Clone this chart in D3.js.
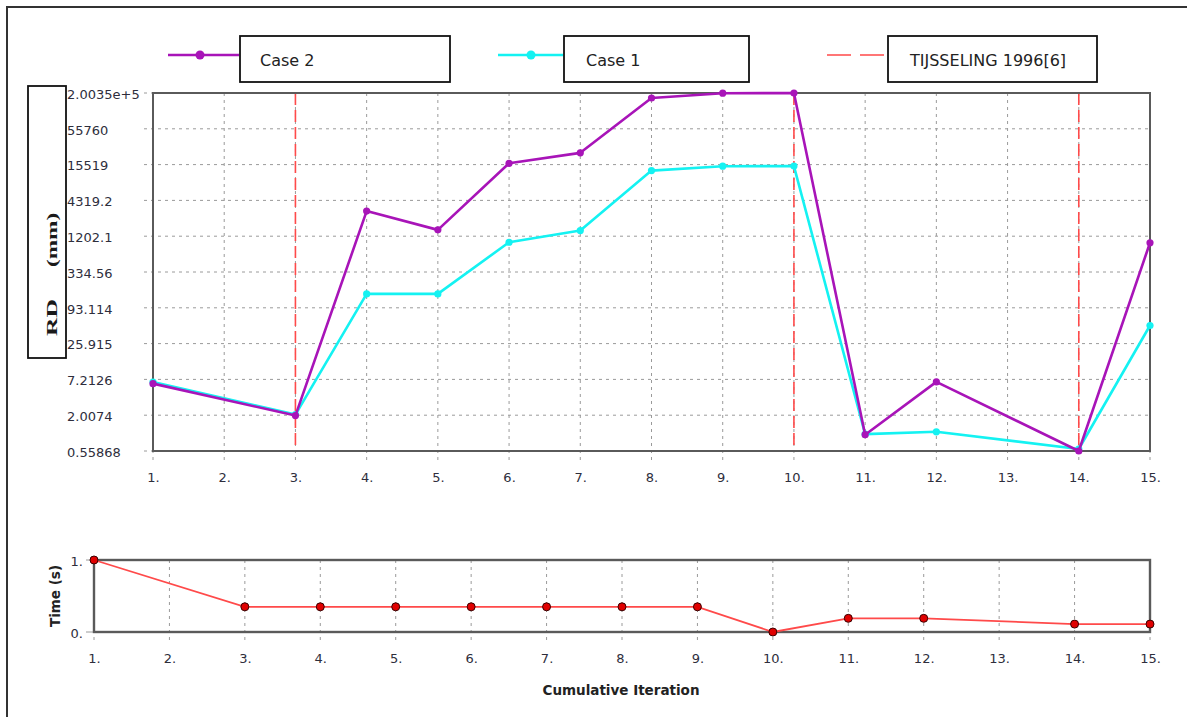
<!DOCTYPE html>
<html>
<head>
<meta charset="utf-8">
<script src="https://cdn.jsdelivr.net/npm/d3@7"></script>
<style>
  html, body { margin: 0; padding: 0; background: #fff; }
  svg { display: block; }
</style>
</head>
<body>
<script>
// Iterations at which results were recorded (2 and 13 have no sample)
const iterations = [1, 3, 4, 5, 6, 7, 8, 9, 10, 11, 12, 14, 15];
// RD (mm) per iteration
const case2 = [6.2, 1.98, 2950, 1507, 16270, 23620, 167500, 199000, 200350, 1.0, 6.6, 0.55868, 952];
const case1 = [6.55, 2.05, 153, 153, 969, 1470, 12525, 14660, 14700, 1.02, 1.11, 0.6, 49.5];
// Computation time (s) per iteration
const timeSec = [1.0, 0.35, 0.35, 0.35, 0.35, 0.35, 0.35, 0.35, 0.0, 0.19, 0.19, 0.11, 0.11];
// Iterations marked by the reference solution
const refIterations = [3, 10, 14];
// Axis ticks
const xTicks = [1, 2, 3, 4, 5, 6, 7, 8, 9, 10, 11, 12, 13, 14, 15];
const yTickValues = [0.55868, 2.0074, 7.2126, 25.915, 93.114, 334.56, 1202.1, 4319.2, 15519, 55760, 200350];
const yTickLabels = ["0.55868", "2.0074", "7.2126", "25.915", "93.114", "334.56", "1202.1", "4319.2", "15519", "55760", "2.0035e+5"];
const timeTicks = [0, 1];
const timeTickLabels = ["0.", "1."];
const legendLabels = ["Case 2", "Case 1", "TIJSSELING 1996[6]"];

const W = 1187, H = 717;
const PURPLE = "#a814b8", CYAN = "#14f2f2", RED = "#ff4a4a";
const FONT = "'DejaVu Sans', Verdana, sans-serif";
const TXT = "#2e2e3c";

const svg = d3.select("body").append("svg").attr("width", W).attr("height", H);
svg.append("rect").attr("width", W).attr("height", H).attr("fill", "#fff");
// outer frame
svg.append("rect").attr("x", 7).attr("y", 7).attr("width", W + 20).attr("height", H + 20)
  .attr("fill", "none").attr("stroke", "#333").attr("stroke-width", 2);

// ---------- upper chart: RD ----------
const pTop = { l: 153, r: 1150, t: 93, b: 451 };
const x = d3.scaleLinear().domain([1, 15]).range([pTop.l, pTop.r]);
const y = d3.scaleLog().domain([0.55868, 200350]).range([pTop.b, pTop.t]);

const gTop = svg.append("g");
// grid
gTop.selectAll(".hg").data(yTickValues).join("line")
  .attr("x1", pTop.l - 9).attr("x2", pTop.r)
  .attr("y1", d => y(d)).attr("y2", d => y(d))
  .attr("stroke", "#9a9a9a").attr("stroke-width", 1).attr("stroke-dasharray", "3,4");
gTop.selectAll(".vg").data(xTicks).join("line")
  .attr("x1", d => x(d)).attr("x2", d => x(d))
  .attr("y1", pTop.t).attr("y2", pTop.b + 11)
  .attr("stroke", "#9a9a9a").attr("stroke-width", 1).attr("stroke-dasharray", "3,4");
// reference lines
gTop.selectAll(".ref").data(refIterations).join("line")
  .attr("x1", d => x(d)).attr("x2", d => x(d))
  .attr("y1", pTop.t).attr("y2", pTop.b)
  .attr("stroke", RED).attr("stroke-width", 1.6).attr("stroke-dasharray", "12,5");
// frame
gTop.append("rect").attr("x", pTop.l).attr("y", pTop.t)
  .attr("width", pTop.r - pTop.l).attr("height", pTop.b - pTop.t)
  .attr("fill", "none").attr("stroke", "#5a5a5a").attr("stroke-width", 2);

// y axis labels
const yAxis = d3.axisLeft(y).tickValues(yTickValues)
  .tickFormat((d, i) => yTickLabels[i]).tickSize(0).tickPadding(0);
const gy = svg.append("g").attr("transform", `translate(${pTop.l},0)`).call(yAxis);
gy.select(".domain").remove();
gy.selectAll("text").attr("text-anchor", "start").attr("x", 67 - pTop.l).attr("dy", "0.4em")
  .style("font-family", FONT).style("font-size", "13px").attr("fill", TXT);

// x axis labels
const xAxis = d3.axisBottom(x).tickValues(xTicks).tickFormat(d => d + ".").tickSize(0).tickPadding(0);
const gx = svg.append("g").attr("transform", `translate(0,${pTop.b})`).call(xAxis);
gx.select(".domain").remove();
gx.selectAll("text").attr("y", 31).attr("dy", 0)
  .style("font-family", FONT).style("font-size", "13px").attr("fill", TXT);

// series
function drawSeries(vals, color) {
  const pts = iterations.map((it, i) => [it, vals[i]]);
  const line = d3.line().x(d => x(d[0])).y(d => y(d[1]));
  gTop.append("path").datum(pts).attr("d", line)
    .attr("fill", "none").attr("stroke", color).attr("stroke-width", 2.6).attr("stroke-linejoin", "round");
  gTop.append("g").selectAll("circle").data(pts).join("circle")
    .attr("cx", d => x(d[0])).attr("cy", d => y(d[1])).attr("r", 3.6).attr("fill", color);
}
drawSeries(case1, CYAN);
drawSeries(case2, PURPLE);

// y title box with stretched serif caption
svg.append("rect").attr("x", 28).attr("y", 86).attr("width", 38).attr("height", 272)
  .attr("fill", "#fff").attr("stroke", "#111").attr("stroke-width", 1.8);
const serif = "'Liberation Serif', 'Times New Roman', serif";
svg.append("text").attr("transform", "translate(57,336) rotate(-90) scale(1.7,1)")
  .style("font-family", serif).style("font-size", "15px").style("font-weight", "bold")
  .attr("fill", "#1a1a1a").text("RD");
svg.append("text").attr("transform", "translate(57,267) rotate(-90) scale(1.55,1)")
  .style("font-family", serif).style("font-size", "15px").style("font-weight", "bold")
  .attr("fill", "#1a1a1a").text("(mm)");

// legend
const legend = [
  { label: legendLabels[0], color: PURPLE, x1: 168, x2: 239, mk: 200, bx: 240, bw: 210, tx: 260, dash: null },
  { label: legendLabels[1], color: CYAN, x1: 498, x2: 563, mk: 531, bx: 564, bw: 185, tx: 586, dash: null },
  { label: legendLabels[2], color: RED, x1: 827, x2: 887, mk: null, bx: 888, bw: 209, tx: 910, dash: "24,9" }
];
legend.forEach(l => {
  svg.append("line").attr("x1", l.x1).attr("x2", l.x2).attr("y1", 55).attr("y2", 55)
    .attr("stroke", l.color).attr("stroke-width", l.dash ? 1.6 : 2.6)
    .attr("stroke-dasharray", l.dash);
  if (l.mk) svg.append("circle").attr("cx", l.mk).attr("cy", 55).attr("r", 4.5).attr("fill", l.color);
  svg.append("rect").attr("x", l.bx).attr("y", 36).attr("width", l.bw).attr("height", 46)
    .attr("fill", "#fff").attr("stroke", "#111").attr("stroke-width", 1.8);
  svg.append("text").attr("x", l.tx).attr("y", 66)
    .style("font-family", FONT).style("font-size", "16px").attr("fill", "#222").text(l.label);
});

// ---------- lower chart: time ----------
const pBot = { l: 94, r: 1150, t: 560, b: 632 };
const xb = d3.scaleLinear().domain([1, 15]).range([pBot.l, pBot.r]);
const yb = d3.scaleLinear().domain([0, 1]).range([pBot.b, pBot.t]);
const gBot = svg.append("g");
gBot.selectAll(".vg").data(xTicks).join("line")
  .attr("x1", d => xb(d)).attr("x2", d => xb(d))
  .attr("y1", pBot.t).attr("y2", pBot.b + 11)
  .attr("stroke", "#9a9a9a").attr("stroke-width", 1).attr("stroke-dasharray", "3,4");
gBot.selectAll(".ht").data(timeTicks).join("line")
  .attr("x1", pBot.l - 8).attr("x2", pBot.l)
  .attr("y1", d => yb(d)).attr("y2", d => yb(d))
  .attr("stroke", "#9a9a9a").attr("stroke-width", 1);
gBot.append("rect").attr("x", pBot.l).attr("y", pBot.t)
  .attr("width", pBot.r - pBot.l).attr("height", pBot.b - pBot.t)
  .attr("fill", "none").attr("stroke", "#5a5a5a").attr("stroke-width", 2.4);

const tPts = iterations.map((it, i) => [it, timeSec[i]]);
gBot.append("path").datum(tPts)
  .attr("d", d3.line().x(d => xb(d[0])).y(d => yb(d[1])))
  .attr("fill", "none").attr("stroke", RED).attr("stroke-width", 1.8);
gBot.append("g").selectAll("circle").data(tPts).join("circle")
  .attr("cx", d => xb(d[0])).attr("cy", d => yb(d[1])).attr("r", 4)
  .attr("fill", "#e00000").attr("stroke", "#3a0000").attr("stroke-width", 1);

const ybAxis = d3.axisLeft(yb).tickValues(timeTicks).tickFormat((d, i) => timeTickLabels[i]).tickSize(0).tickPadding(11);
const gyb = svg.append("g").attr("transform", `translate(${pBot.l},0)`).call(ybAxis);
gyb.select(".domain").remove();
gyb.selectAll("text").attr("dy", "0.4em")
  .style("font-family", FONT).style("font-size", "13px").attr("fill", TXT);

const xbAxis = d3.axisBottom(xb).tickValues(xTicks).tickFormat(d => d + ".").tickSize(0).tickPadding(0);
const gxb = svg.append("g").attr("transform", `translate(0,${pBot.b})`).call(xbAxis);
gxb.select(".domain").remove();
gxb.selectAll("text").attr("y", 31).attr("dy", 0)
  .style("font-family", FONT).style("font-size", "13px").attr("fill", TXT);

svg.append("text").attr("transform", "translate(60,596) rotate(-90)").attr("text-anchor", "middle")
  .style("font-family", FONT).style("font-size", "13.5px").style("font-weight", "bold")
  .attr("fill", "#222").text("Time (s)");
svg.append("text").attr("x", 621).attr("y", 695).attr("text-anchor", "middle")
  .style("font-family", FONT).style("font-size", "13.5px").style("font-weight", "bold")
  .attr("fill", "#222").text("Cumulative Iteration");
</script>
</body>
</html>
